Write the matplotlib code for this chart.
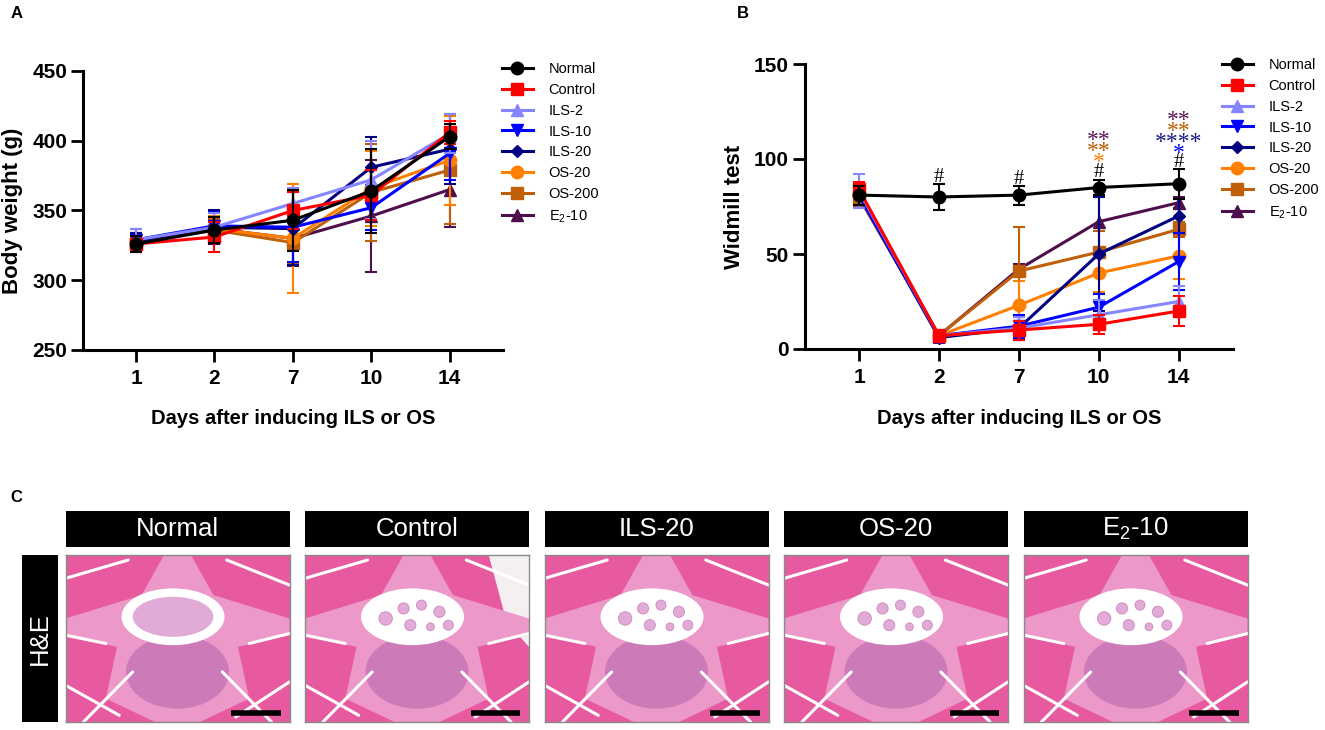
import numpy as np
import matplotlib
matplotlib.use("Agg")
import matplotlib.pyplot as plt
from matplotlib.patches import Ellipse, Polygon

plt.rcParams['font.family'] = ['Liberation Sans', 'DejaVu Sans']
plt.rcParams['mathtext.fontset'] = 'custom'
plt.rcParams['mathtext.rm'] = 'Liberation Sans'
plt.rcParams['mathtext.bf'] = 'Liberation Sans:bold'

# ---- data ----
days = ["1", "2", "7", "10", "14"]
groups = ["Normal", "Control", "ILS-2", "ILS-10", "ILS-20", "OS-20", "OS-200",
          r"E$_\mathregular{2}$-10"]

weight = [
    [326, 336, 343, 364, 403],   # Normal
    [326, 331, 350, 361, 406],   # Control
    [329, 338, 355, 372, 405],   # ILS-2
    [329, 339, 338, 352, 391],   # ILS-10
    [328, 338, 337, 381, 394],   # ILS-20
    [328, 337, 330, 366, 386],   # OS-20
    [327, 336, 327, 363, 379],   # OS-200
    [328, 337, 330, 346, 365],   # E2-10
]
weight_err = [
    [6, 9, 22, 30, 9],
    [6, 11, 13, 18, 8],
    [8, 10, 11, 28, 14],
    [8, 10, 25, 16, 19],
    [6, 12, 26, 22, 25],
    [6, 9, 39, 27, 32],
    [6, 8, 15, 35, 39],
    [6, 8, 20, 40, 27],
]

widmill = [
    [81, 80, 81, 85, 87],
    [84, 7, 10, 13, 20],
    [83, 7, 11, 18, 25],
    [81, 7, 12, 22, 46],
    [81, 6, 11, 50, 70],
    [81, 7, 23, 40, 49],
    [80, 7, 41, 51, 63],
    [80, 7, 42, 67, 77],
]
widmill_err = [
    [5, 7, 5, 4, 8],
    [4, 3, 5, 5, 8],
    [9, 3, 6, 8, 8],
    [5, 3, 6, 7, 15],
    [5, 3, 6, 30, 9],
    [5, 3, 13, 10, 12],
    [5, 3, 23, 11, 4],
    [5, 3, 3, 14, 3],
]

# significance marks in panel B: (day index, height, text, colour)
hash_marks = [(1, 91.5), (2, 90.5), (3, 94), (4, 99.5)]
star_marks = [
    (3, 101.5, "*", "#ff8000"),
    (3, 107.5, "**", "#b85c00"),
    (3, 113, "**", "#5a1656"),
    (4, 106, "*", "#0000ff"),
    (4, 112, "****", "#1a1a80"),
    (4, 118, "**", "#b85c00"),
    (4, 123.5, "**", "#5a1656"),
]

sections = ["Normal", "Control", "ILS-20", "OS-20", r"E$_\mathregular{2}$-10"]

colors = ["#000000", "#ff0000", "#8585ff", "#0000ff", "#000080",
          "#ff8000", "#bf5f0a", "#4f0f4d"]
markers = ["o", "s", "^", "v", "D", "o", "s", "^"]
msizes = [9, 8.5, 9, 9, 6.5, 9, 8.5, 9]

W, H = 1325, 730
fig = plt.figure(figsize=(W / 100, H / 100), dpi=100)


def px_axes(l, t, r, b):
    return fig.add_axes([l / W, 1 - b / H, (r - l) / W, (b - t) / H])


def line_panel(ax, values, errs, ylim, yticks, ylabel, ylab_x, leg_xy):
    x = np.arange(len(days))
    handles = []
    n = len(groups)
    for i in reversed(range(n)):
        z = 2 + (n - i)
        ax.errorbar(x, values[i], yerr=errs[i], fmt="none", ecolor=colors[i],
                    elinewidth=1.5, capsize=4, capthick=1.5, zorder=z)
        h, = ax.plot(x, values[i], color=colors[i], lw=2.2, marker=markers[i],
                     ms=msizes[i], mec=colors[i], mfc=colors[i], zorder=z + 0.5,
                     label=groups[i])
        handles.insert(0, h)
    ax.set_xlim(-0.676, 4.68)
    ax.set_ylim(*ylim)
    ax.set_xticks(x, days)
    ax.set_yticks(yticks)
    for s in ["top", "right"]:
        ax.spines[s].set_visible(False)
    for s in ["left", "bottom"]:
        ax.spines[s].set_linewidth(2.2)
    ax.tick_params(axis="both", length=8.5, width=2, labelsize=15)
    ax.tick_params(axis="y", pad=3)
    ax.tick_params(axis="x", pad=5)
    for lab in ax.get_xticklabels() + ax.get_yticklabels():
        lab.set_fontweight("bold")
    ax.set_ylabel(ylabel, fontsize=16, fontweight="bold")
    ax.yaxis.set_label_coords(ylab_x, 0.5)
    ax.set_xlabel("Days after inducing ILS or OS", fontsize=14.5, fontweight="bold")
    ax.xaxis.set_label_coords(0.5, -0.21)
    ax.legend(handles=handles, loc="upper left", frameon=False, fontsize=10.5,
              bbox_to_anchor=(leg_xy[0] / W, 1 - leg_xy[1] / H),
              bbox_transform=fig.transFigure, borderaxespad=0, borderpad=0,
              handlelength=2.1, handletextpad=1.1, labelspacing=0.47)


# ---- panel A ----
axA = px_axes(83, 71, 503, 350)
line_panel(axA, weight, weight_err, (250, 450), [250, 300, 350, 400, 450],
           "Body weight (g)", -0.143, (502, 62))
fig.text(11 / W, 1 - 13 / H, "A", fontsize=12, fontweight="bold", va="center")

# ---- panel B ----
axB = px_axes(805, 64, 1233, 349)
line_panel(axB, widmill, widmill_err, (0, 150), [0, 50, 100, 150],
           "Widmill test", -0.14, (1222, 58))
fig.text(737 / W, 1 - 13 / H, "B", fontsize=12, fontweight="bold", va="center")

SERIF = ["Liberation Serif", "DejaVu Serif"]
for d, y in hash_marks:
    axB.annotate("#", (d, y), xytext=(0, -0.34 * 14.5), textcoords="offset points",
                 ha="center", va="baseline", fontsize=14.5, family=SERIF,
                 color="black", zorder=20)
for d, y, txt, c in star_marks:
    axB.annotate(txt, (d, y), xytext=(0, -0.5 * 17), textcoords="offset points",
                 ha="center", va="baseline", fontsize=17, family=SERIF,
                 color=c, zorder=20)

# ---- panel C: H&E sections (schematic) ----
fig.text(10 / W, 1 - 498 / H, "C", fontsize=12, fontweight="bold", va="center")

MUSCLE = "#e85aa0"
BONE = "#ec98c9"
MARROW = "#cd7ab9"
CORD = "#e1aad7"
ASPECT = 224 / 167


def draw_section(ax, k):
    ax.set_xlim(0, 1)
    ax.set_ylim(0, 1)
    ax.set_xticks([])
    ax.set_yticks([])
    ax.set_facecolor(MUSCLE)
    for s in ax.spines.values():
        s.set_color("#8a8a8a")
        s.set_linewidth(1)
    # fascia between muscles
    for x0, y0, x1, y1 in [(0.0, 0.86, 0.28, 0.97), (0.72, 0.97, 1.0, 0.82),
                           (0.0, 0.22, 0.24, 0.04), (0.76, 0.03, 1.0, 0.24),
                           (0.0, 0.52, 0.18, 0.47), (0.82, 0.47, 1.0, 0.53),
                           (0.08, 0.0, 0.3, 0.3), (0.92, 0.0, 0.7, 0.3)]:
        ax.plot([x0, x1], [y0, y1], color="white", lw=2.2, solid_capstyle="round")
    if k == 1:
        ax.add_patch(Polygon([(0.82, 1.0), (1.0, 1.0), (1.0, 0.45), (0.9, 0.6)],
                             closed=True, fc="#f4f0f2", ec="none"))
    cx = 0.5
    right = [(0.06, 1.0), (0.16, 0.76), (0.5, 0.62), (0.5, 0.52), (0.27, 0.45),
             (0.32, 0.14), (0.1, 0.0)]
    pts = [(cx + dx, dy) for dx, dy in right] + [(cx - dx, dy) for dx, dy in reversed(right)]
    ax.add_patch(Polygon(pts, closed=True, fc=BONE, ec="none"))
    ax.add_patch(Ellipse((cx, 0.3), 0.46, 0.44, fc=MARROW, ec="none"))
    ax.add_patch(Ellipse((cx - 0.02, 0.63), 0.46, 0.34, fc="white", ec="none"))
    if k == 0:
        ax.add_patch(Ellipse((cx - 0.02, 0.63), 0.36, 0.24, fc=CORD, ec="none"))
    else:
        for dx, dy, r in [(-0.14, 0.62, 0.06), (-0.06, 0.68, 0.05), (0.02, 0.7, 0.045),
                          (0.1, 0.66, 0.05), (0.14, 0.58, 0.045), (-0.03, 0.58, 0.05),
                          (0.06, 0.57, 0.035)]:
            ax.add_patch(Ellipse((cx + dx, dy), r, r * ASPECT, fc=CORD,
                                 ec="#c98abf", lw=0.6))
    ax.plot([0.74, 0.96], [0.055, 0.055], color="black", lw=4, solid_capstyle="butt")


for k, name in enumerate(sections):
    left = 65.5 + 239.5 * k
    hax = px_axes(left, 511, left + 224, 547)
    hax.set_facecolor("black")
    hax.set_xticks([])
    hax.set_yticks([])
    for s in hax.spines.values():
        s.set_visible(False)
    hax.text(0.5, 0.5, name, color="white", fontsize=18.5, ha="center", va="center",
             transform=hax.transAxes)
    iax = px_axes(left, 555, left + 224, 722)
    draw_section(iax, k)

bar = px_axes(22, 555, 58, 722)
bar.set_facecolor("black")
bar.set_xticks([])
bar.set_yticks([])
for s in bar.spines.values():
    s.set_visible(False)
bar.text(0.5, 0.5, "H&E", color="white", fontsize=18.5, rotation=90,
         ha="center", va="center", transform=bar.transAxes)

fig.savefig("out.png", dpi=100)
